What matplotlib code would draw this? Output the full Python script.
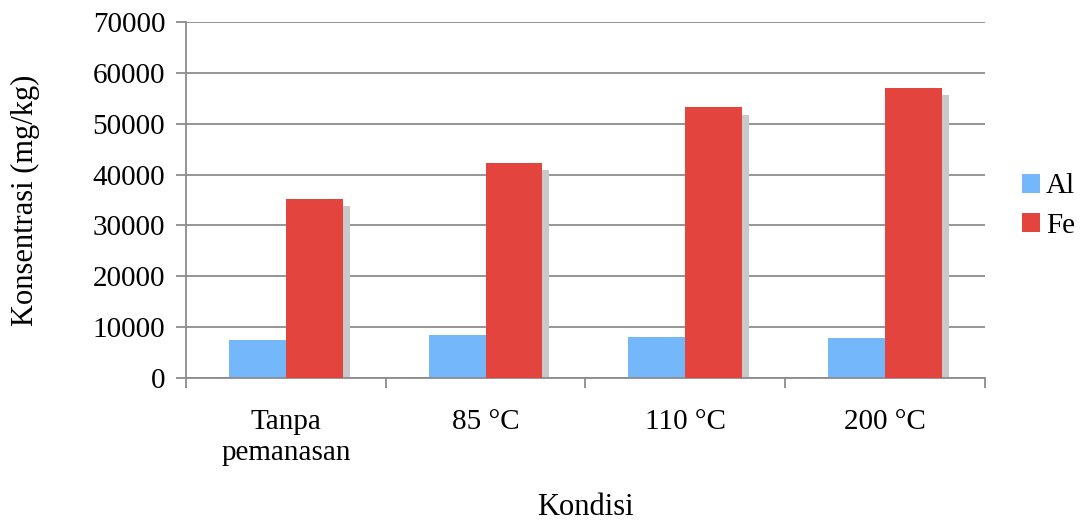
import matplotlib
matplotlib.use('Agg')
import matplotlib.pyplot as plt
import numpy as np

# ── Data ──────────────────────────────────────────────────────────────────────
KONDISI = ['Tanpa\npemanasan', '85 °C', '110 °C', '200 °C']
AL = [7500, 8450, 8100, 7800]
FE = [35200, 42300, 53200, 57000]

AL_COLOR = '#74B7FB'
FE_COLOR = '#E3443D'
SHADOW = '#C9C9C9'
GRID = '#8C8C8C'

plt.rcParams['font.family'] = ['Liberation Serif', 'DejaVu Serif']

fig = plt.figure(figsize=(10.82, 5.23), dpi=100)
ax = fig.add_axes([0.172, 0.277, 0.738, 0.681])

x = np.arange(len(KONDISI))
w = 0.285
dx, dy = 0.035, 1400   # drop-shadow offset (data units)

for vals, off in ((AL, -w / 2), (FE, w / 2)):
    ax.bar(x + off + dx, np.array(vals) - dy, w, color=SHADOW, zorder=1)
ax.bar(x - w / 2, AL, w, color=AL_COLOR, label='Al', zorder=2)
ax.bar(x + w / 2, FE, w, color=FE_COLOR, label='Fe', zorder=3)

ax.set_xlim(-0.5, len(KONDISI) - 0.5)
ax.set_ylim(0, 70000)
ax.set_yticks(np.arange(0, 70001, 10000))
ax.yaxis.grid(True, color=GRID, lw=1.3)
ax.set_axisbelow(True)

ax.set_xticks(x)
ax.set_xticklabels(KONDISI, fontsize=21, linespacing=1.25)
ax.set_xticks(np.arange(-0.5, len(KONDISI)), minor=True)
ax.tick_params(axis='x', which='major', length=0, pad=22)
ax.tick_params(axis='x', which='minor', length=7, color=GRID, width=1.3)
ax.tick_params(axis='y', length=7, color=GRID, width=1.3, labelsize=21, pad=8)

for s in ('top', 'right'):
    ax.spines[s].set_visible(False)
for s in ('left', 'bottom'):
    ax.spines[s].set_color(GRID)
    ax.spines[s].set_linewidth(1.3)

ax.set_xlabel('Kondisi', fontsize=22)
ax.xaxis.set_label_coords(0.5, -0.322)
ax.set_ylabel('Konsentrasi (mg/kg)', fontsize=22, labelpad=38)

ax.legend(loc='center left', bbox_to_anchor=(1022 / 1082, 1 - 206 / 523),
          bbox_transform=fig.transFigure, frameon=False, borderpad=0,
          borderaxespad=0, fontsize=21, handlelength=0.62, handleheight=0.62,
          handletextpad=0.2, labelspacing=0.45)

fig.savefig('out.png', dpi=100)
